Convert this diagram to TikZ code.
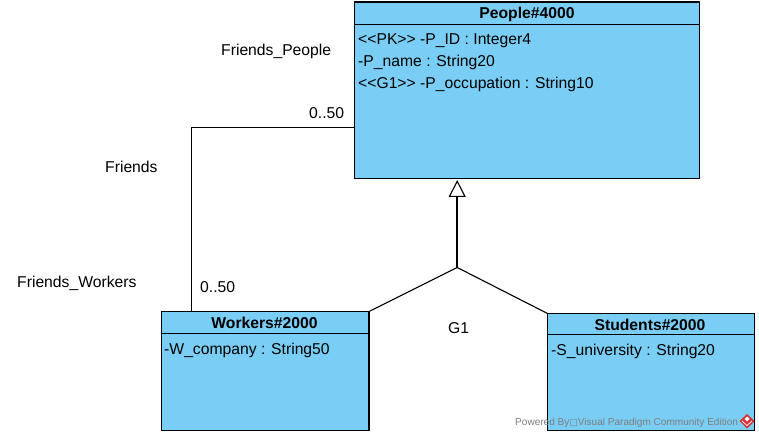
\documentclass[tikz,border=0pt]{standalone}
\usepackage{fontspec}
\setmainfont{Liberation Sans}
\newfontfamily\boxglyph{DejaVu Sans}
\usetikzlibrary{arrows.meta}
\definecolor{umlfill}{RGB}{122,206,245}
\definecolor{markgray}{RGB}{125,125,125}
\definecolor{markred}{RGB}{214,50,56}
\tikzset{
  x=1pt,y=-1pt,
  umlbox/.style={draw=black,fill=umlfill,line width=1.1pt,inner sep=0pt,outer sep=0pt,anchor=north west},
  divider/.style={draw=black,line width=1pt},
  umltitle/.style={font=\fontsize{15.7}{18}\selectfont\bfseries,inner sep=0pt,anchor=base},
  attr/.style={font=\fontsize{15.7}{18}\selectfont,inner sep=0pt,anchor=base west},
  lbl/.style={font=\fontsize{15.7}{18}\selectfont,inner sep=0pt,anchor=base west},
  conn/.style={draw=black,line width=1.1pt},
  genline/.style={draw=black,line width=1.7pt},
  gentip/.style={-{Triangle[open,fill=white,length=17pt,width=17pt,line width=1.1pt]}},
  wmark/.style={font=\fontsize{10.05}{11}\selectfont,text=markgray,inner sep=0pt,anchor=base west}
}
\begin{document}
\begin{tikzpicture}
\useasboundingbox (0,0) rectangle (759,438);
\node[umlbox,minimum width=345pt,minimum height=176.5pt] (people) at (354.5,2) {};
\node[umlbox,minimum width=207.5pt,minimum height=119pt] (workers) at (161.5,311.5) {};
\node[umlbox,minimum width=207pt,minimum height=117pt] (students) at (547.5,313.5) {};
\draw[divider] (people.west |- 0,24.5) -- (people.east |- 0,24.5);
\draw[divider] (workers.west |- 0,333.5) -- (workers.east |- 0,333.5);
\draw[divider] (students.west |- 0,334.5) -- (students.east |- 0,334.5);
\node[umltitle] (ptitle) at (527,18.5) {People\#4000};
\node[umltitle] (wtitle) at (264.5,328.5) {Workers\#2000};
\node[umltitle] (stitle) at (650,330.5) {Students\#2000};
\node[attr] (pa) at (358,45) {<{}<PK>{}> -P\_ID : Integer4};
\node[attr] (pb) at (358,66.7) {-P\_name : String20};
\node[attr] (pc) at (358,88.5) {<{}<G1>{}> -P\_occupation : String10};
\node[attr] (wa) at (164,354.5) {-W\_company : String50};
\node[attr] (sa) at (551,355.5) {-S\_university : String20};
\node[lbl] (l1) at (221,55.7) {Friends\_People};
\node[lbl] (l2) at (105,172.7) {Friends};
\node[lbl] (l3) at (17,287) {Friends\_Workers};
\node[lbl] (l4) at (309,118.5) {0..50};
\node[lbl] (l5) at (200,292.5) {0..50};
\node[lbl] (l6) at (448,333) {G1};
\coordinate (corner) at (191.5,127.5);
\draw[conn] (people.west |- corner) -- (corner) -- (corner |- workers.north);
\coordinate (join) at (457.2,267.5);
\coordinate (apex) at (457.2,180);
\draw[genline,gentip] (join) -- (apex);
\draw[conn] (workers.north east) -- (join) -- (students.north west);
\node[wmark] (wm) at (515,425) {Powered By{\boxglyph\fontsize{9}{10}\selectfont □}Visual Paradigm Community Edition};
\fill[markred] (747,414) -- (754.5,421) -- (747,428.5) -- (739.5,421) -- cycle;
\draw[white,line width=0.7pt] (742,421) -- (747,425.5) -- (752,421);
\fill[white] (747,416.5) -- (749.5,419) -- (747,421.5) -- (744.5,419) -- cycle;
\end{tikzpicture}
\end{document}
